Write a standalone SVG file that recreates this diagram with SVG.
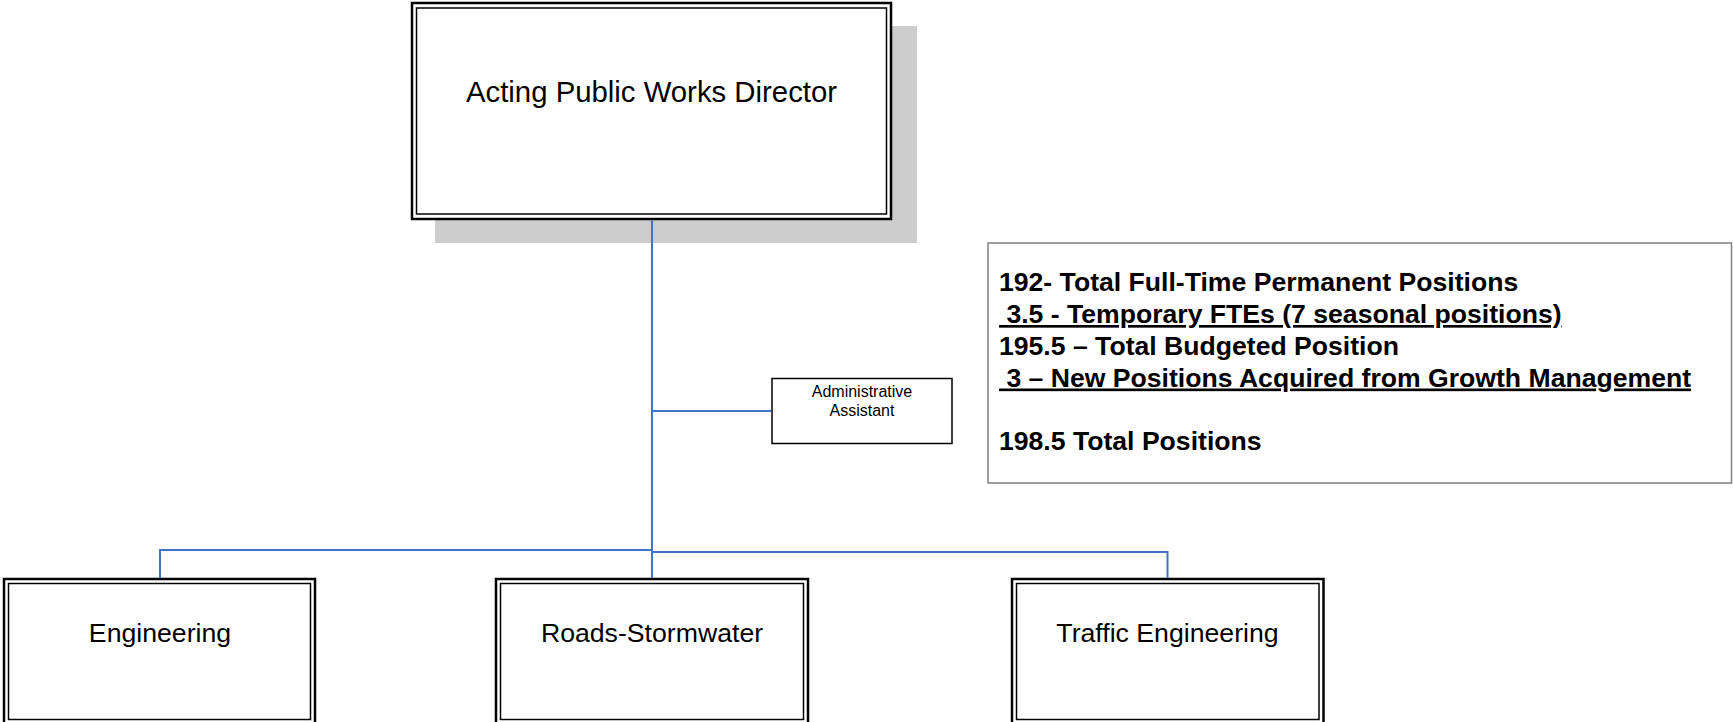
<svg xmlns="http://www.w3.org/2000/svg" width="1733" height="722" viewBox="0 0 1733 722">
<style>
.outer{fill:none;stroke:#000;stroke-width:2.5}
.inner{fill:none;stroke:#000;stroke-width:1.5}
.lbl{font-family:"Liberation Sans",Arial,sans-serif;fill:#000;text-anchor:middle}
.conn{fill:none;stroke:#4472C4;stroke-width:2}
.note{font-family:"Liberation Sans",Arial,sans-serif;font-weight:bold;font-size:26.6px;fill:#000;white-space:pre}
</style>
<rect width="1733" height="722" fill="#fff"/>
<g id="director">
<rect x="435" y="26" width="482" height="217" fill="#cccccc"/>
<rect x="412" y="3" width="479" height="216" fill="#fff"/>
<rect class="outer" x="412" y="3" width="479" height="216"/>
<rect class="inner" x="416.5" y="8" width="470" height="206"/>
<text class="lbl" x="651.5" y="101.5" font-size="29.33">Acting Public Works Director</text>
</g>
<g id="admin">
<rect x="772" y="378.5" width="180" height="65" fill="#fff" stroke="#000" stroke-width="1.5"/>
<text class="lbl" x="862" y="396.5" font-size="16">Administrative</text>
<text class="lbl" x="862" y="416" font-size="16">Assistant</text>
</g>
<g id="engineering">
<rect x="4" y="579" width="311" height="148" fill="#fff"/>
<rect class="outer" x="4" y="579" width="311" height="148"/>
<rect class="inner" x="8.5" y="583.5" width="302" height="136"/>
<text class="lbl" x="160" y="641.7" font-size="26.67">Engineering</text>
</g>
<g id="roads">
<rect x="496" y="579" width="312" height="148" fill="#fff"/>
<rect class="outer" x="496" y="579" width="312" height="148"/>
<rect class="inner" x="500.5" y="583.5" width="303" height="136"/>
<text class="lbl" x="652" y="641.7" font-size="26.67">Roads-Stormwater</text>
</g>
<g id="traffic">
<rect x="1012" y="579" width="311.5" height="148" fill="#fff"/>
<rect class="outer" x="1012" y="579" width="311.5" height="148"/>
<rect class="inner" x="1016.5" y="583.5" width="302.5" height="136"/>
<text class="lbl" x="1167.5" y="641.7" font-size="26.67">Traffic Engineering</text>
</g>
<g id="summary">
<rect x="988" y="243" width="743.5" height="240" fill="#fff" stroke="#7f7f7f" stroke-width="1.5"/>
<text class="note" x="999" y="291">192- Total Full-Time Permanent Positions</text>
<text class="note" x="999" y="323" text-decoration="underline"> 3.5 - Temporary FTEs (7 seasonal positions)</text>
<text class="note" x="999" y="355">195.5 – Total Budgeted Position</text>
<text class="note" x="999" y="386.5" text-decoration="underline"> 3 – New Positions Acquired from Growth Management</text>
<text class="note" x="999" y="450">198.5 Total Positions</text>
</g>
<g id="connectors">
<path class="conn" d="M652 220.5V578"/>
<path class="conn" d="M652 411H771"/>
<path class="conn" d="M652 550H160V578"/>
<path class="conn" d="M652 552H1167.5V578"/>
</g>
</svg>
